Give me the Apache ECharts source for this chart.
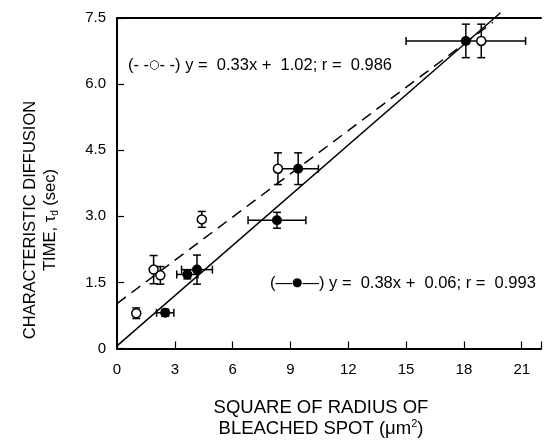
<!DOCTYPE html>
<html>
<head>
<meta charset="utf-8">
<script src="https://cdn.jsdelivr.net/npm/echarts@6/dist/echarts.min.js"></script>
<style>
  html, body { margin: 0; padding: 0; background: #fff; }
  #chart { width: 544px; height: 442px; }
</style>
</head>
<body>
<div id="chart"></div>
<script>
// open circles (dashed fit)
const openX = [1.0, 1.9, 2.25, 4.4, 8.35, 18.9];
const openY = [0.80, 1.79, 1.66, 2.93, 4.08, 6.98];
const openYErr = [0.12, 0.32, 0.2, 0.18, 0.36, 0.38];

// filled circles (solid fit)
const filledX = [2.5, 3.65, 4.15, 8.3, 9.4, 18.1];
const filledY = [0.81, 1.68, 1.79, 2.91, 4.08, 6.98];
const filledXErr = [0.45, 0.55, 0.8, 1.5, 1.05, 3.1];
const filledYErr = [0.08, 0.1, 0.33, 0.18, 0.36, 0.38];

// fit lines, endpoints
const fitOpen = [[0, 1.02], [19.5, 7.4]];
const fitFilled = [[0, 0.06], [19.9, 7.62]];

const FONT = 'Liberation Sans, Arial, sans-serif';

const myChart = echarts.init(document.getElementById('chart'));

function errBars(xs, ys, xe, ye) {
  return xs.map((x, i) => [x, ys[i], xe ? xe[i] : 0, ye[i]]);
}

function renderErr(params, api) {
  const x = api.value(0), y = api.value(1), dx = api.value(2), dy = api.value(3);
  const cap = 4;
  const kids = [];
  const st = { stroke: '#000', lineWidth: 1.5 };
  if (dy > 0) {
    const a = api.coord([x, y - dy]), b = api.coord([x, y + dy]);
    kids.push({ type: 'line', shape: { x1: a[0], y1: a[1], x2: b[0], y2: b[1] }, style: st });
    kids.push({ type: 'line', shape: { x1: a[0] - cap, y1: a[1], x2: a[0] + cap, y2: a[1] }, style: st });
    kids.push({ type: 'line', shape: { x1: b[0] - cap, y1: b[1], x2: b[0] + cap, y2: b[1] }, style: st });
  }
  if (dx > 0) {
    const a = api.coord([x - dx, y]), b = api.coord([x + dx, y]);
    kids.push({ type: 'line', shape: { x1: a[0], y1: a[1], x2: b[0], y2: b[1] }, style: st });
    kids.push({ type: 'line', shape: { x1: a[0], y1: a[1] - cap, x2: a[0], y2: a[1] + cap }, style: st });
    kids.push({ type: 'line', shape: { x1: b[0], y1: b[1] - cap, x2: b[0], y2: b[1] + cap }, style: st });
  }
  return { type: 'group', children: kids };
}

myChart.setOption({
  animation: false,
  grid: { left: 117, right: 0, top: 18, bottom: 93.5 },
  xAxis: [
    {
      type: 'value', min: 0, max: 22, interval: 3,
      axisLine: { lineStyle: { color: '#000', width: 2 } },
      axisTick: { inside: true, length: 7, lineStyle: { color: '#000', width: 1.2 } },
      axisLabel: {
        margin: 14, color: '#000', fontSize: 15, fontFamily: FONT,
        formatter: v => (v % 3 === 0 ? String(v) : '')
      },
      splitLine: { show: false }
    },
    {
      type: 'value', position: 'top', min: 0, max: 22,
      axisLine: { show: true, lineStyle: { color: '#000', width: 2 } },
      axisTick: { show: false }, axisLabel: { show: false }, splitLine: { show: false }
    }
  ],
  yAxis: {
    type: 'value', min: 0, max: 7.5, interval: 1.5,
    axisLine: { show: true, lineStyle: { color: '#000', width: 2 } },
    axisTick: { show: true, inside: true, length: 7, lineStyle: { color: '#000', width: 1.2 } },
    axisLabel: {
      margin: 11, color: '#000', fontSize: 15, fontFamily: FONT,
      formatter: v => (v === 0 ? '0' : v.toFixed(1))
    },
    splitLine: { show: false }
  },
  graphic: [
    {
      type: 'text', x: 40, y: 220, rotation: Math.PI / 2,
      style: {
        text: 'CHARACTERISTIC DIFFUSION\nTIME, τ{sub|d} (sec)',
        font: '16.5px ' + FONT, fill: '#000', align: 'center', verticalAlign: 'middle',
        lineHeight: 20,
        rich: { sub: { fontSize: 10, verticalAlign: 'bottom', padding: [6, 0, 0, 0], fontFamily: FONT, lineHeight: 20 } }
      }
    },
    {
      type: 'text', x: 321, y: 418,
      style: {
        text: 'SQUARE OF RADIUS OF\nBLEACHED SPOT (μm{sup|2})',
        font: '18.5px ' + FONT, fill: '#000', align: 'center', verticalAlign: 'middle',
        lineHeight: 21,
        rich: { sup: { fontSize: 11, verticalAlign: 'top', padding: [0, 0, 6, 0], fontFamily: FONT, lineHeight: 21 } }
      }
    },
    {
      type: 'text', x: 128, y: 65,
      style: {
        text: '(- -{o|○}- -) y =  0.33x +  1.02; r =  0.986',
        font: '16.5px ' + FONT, fill: '#000', align: 'left', verticalAlign: 'middle',
        rich: { o: { fontSize: 12, fontFamily: 'DejaVu Sans' } }
      }
    },
    {
      type: 'text', x: 270, y: 283,
      style: {
        text: '(—{f|●}—) y =  0.38x +  0.06; r =  0.993',
        font: '16.5px ' + FONT, fill: '#000', align: 'left', verticalAlign: 'middle',
        rich: { f: { fontSize: 12, fontFamily: 'DejaVu Sans' } }
      }
    }
  ],
  series: [
    {
      type: 'line', data: fitFilled, symbol: 'none', clip: false,
      lineStyle: { color: '#000', width: 1.5 }
    },
    {
      type: 'line', data: fitOpen, symbol: 'none', clip: false,
      lineStyle: { color: '#000', width: 1.5, type: [11, 7] }
    },
    {
      type: 'custom', renderItem: renderErr, clip: false,
      data: errBars(openX, openY, null, openYErr), z: 3
    },
    {
      type: 'custom', renderItem: renderErr, clip: false,
      data: errBars(filledX, filledY, filledXErr, filledYErr), z: 3
    },
    {
      type: 'scatter', symbol: 'circle', symbolSize: 9, z: 5,
      itemStyle: { color: '#fff', borderColor: '#000', borderWidth: 1.5, opacity: 1 },
      data: openX.map((x, i) => [x, openY[i]])
    },
    {
      type: 'scatter', symbol: 'circle', symbolSize: 10, z: 6,
      itemStyle: { color: '#000', opacity: 1 },
      data: filledX.map((x, i) => [x, filledY[i]])
    }
  ]
});
</script>
</body>
</html>
